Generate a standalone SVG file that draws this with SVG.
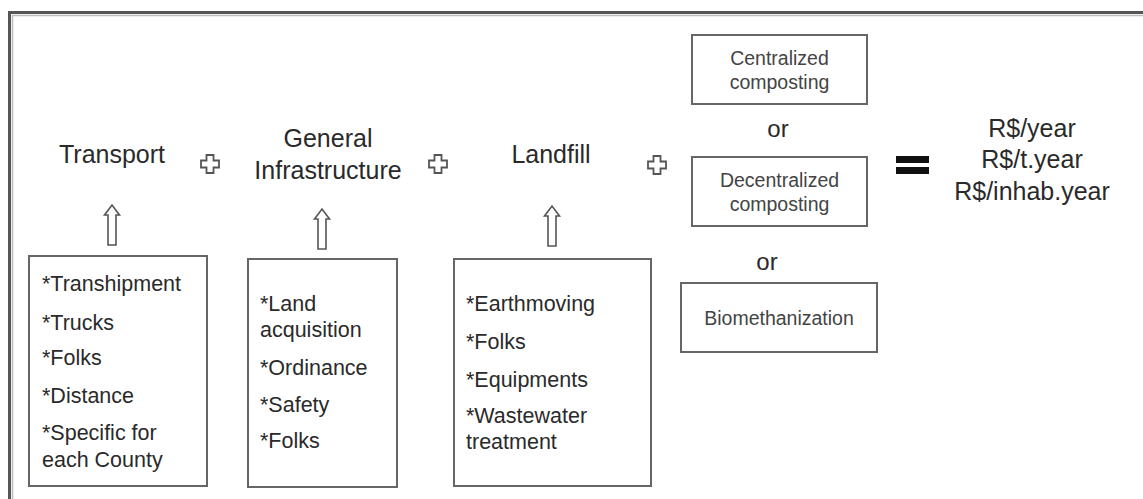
<svg xmlns="http://www.w3.org/2000/svg" width="1143" height="499" viewBox="0 0 1143 499">
<defs>
<style>
text{font-family:"Liberation Sans",Arial,sans-serif;fill:#2a2a2a;}
.h{font-size:25px;text-anchor:middle;}
.li{font-size:21.5px;}
.bx{font-size:19.5px;text-anchor:middle;fill:#444;}
.or{font-size:24px;text-anchor:middle;}
.res{font-size:25px;text-anchor:middle;}
.box{fill:#fff;stroke:#666;stroke-width:2;}
.arr{fill:#fff;stroke:#555;stroke-width:1.6;}
.plus{fill:#fff;stroke:#555;stroke-width:1.8;}
</style>
<path id="uparrow" d="M-4,40 L-4,10 L-7.5,10 L0,0 L7.5,10 L4,10 L4,40 Z"/>
<path id="plus" d="M-3.5,-9 L3.5,-9 L3.5,-3.5 L9,-3.5 L9,3.5 L3.5,3.5 L3.5,9 L-3.5,9 L-3.5,3.5 L-9,3.5 L-9,-3.5 L-3.5,-3.5 Z"/>
</defs>
<rect width="1143" height="499" fill="#fff"/>
<g id="frame">
<path d="M9.5,499 L9.5,12.5 L1143,12.5" fill="none" stroke="#555" stroke-width="3"/>
<path d="M12.5,499 L12.5,15.5 L1143,15.5" fill="none" stroke="#bbb" stroke-width="1.5"/>
</g>
<g id="transport">
<text class="h" x="112" y="163">Transport</text>
</g>
<g id="infrastructure">
<text class="h" x="328" y="147">General</text>
<text class="h" x="328" y="179">Infrastructure</text>
</g>
<g id="landfill">
<text class="h" x="551" y="163">Landfill</text>
</g>
<g id="centralized">
<rect class="box" x="692" y="35" width="175" height="69"/>
<text class="bx" x="779.5" y="65">Centralized</text>
<text class="bx" x="779.5" y="89">composting</text>
</g>
<g id="or1"><text class="or" x="778" y="137">or</text></g>
<g id="decentralized">
<rect class="box" x="692" y="157" width="175" height="69"/>
<text class="bx" x="779.5" y="187">Decentralized</text>
<text class="bx" x="779.5" y="211">composting</text>
</g>
<g id="or2"><text class="or" x="767" y="270">or</text></g>
<g id="biomethanization">
<rect class="box" x="681" y="283" width="196" height="69"/>
<text class="bx" x="779" y="325">Biomethanization</text>
</g>
<g id="equals">
<rect x="896" y="156" width="33" height="7" fill="#111"/>
<rect x="896" y="167" width="33" height="7" fill="#111"/>
</g>
<g id="result">
<text class="res" x="1032" y="137">R$/year</text>
<text class="res" x="1032" y="168">R$/t.year</text>
<text class="res" x="1032" y="200">R$/inhab.year</text>
</g>
<g id="transport-items">
<rect class="box" x="29" y="256" width="178" height="230"/>
<text class="li" x="42" y="291">*Transhipment</text>
<text class="li" x="42" y="330">*Trucks</text>
<text class="li" x="42" y="365">*Folks</text>
<text class="li" x="42" y="403">*Distance</text>
<text class="li" x="42" y="440">*Specific for</text>
<text class="li" x="42" y="467">each County</text>
</g>
<g id="infrastructure-items">
<rect class="box" x="248" y="259" width="149" height="228"/>
<text class="li" x="260" y="311">*Land</text>
<text class="li" x="260" y="337">acquisition</text>
<text class="li" x="260" y="375">*Ordinance</text>
<text class="li" x="260" y="412">*Safety</text>
<text class="li" x="260" y="448">*Folks</text>
</g>
<g id="landfill-items">
<rect class="box" x="454" y="259" width="197" height="227"/>
<text class="li" x="466" y="311">*Earthmoving</text>
<text class="li" x="466" y="349">*Folks</text>
<text class="li" x="466" y="387">*Equipments</text>
<text class="li" x="466" y="423">*Wastewater</text>
<text class="li" x="466" y="449">treatment</text>
</g>
<g id="connectors">
<use href="#uparrow" class="arr" x="112" y="205"/>
<use href="#uparrow" class="arr" x="322" y="209"/>
<use href="#uparrow" class="arr" x="552" y="206"/>
<use href="#plus" class="plus" x="210" y="164"/>
<use href="#plus" class="plus" x="438" y="164"/>
<use href="#plus" class="plus" x="657" y="165"/>
</g>
</svg>
